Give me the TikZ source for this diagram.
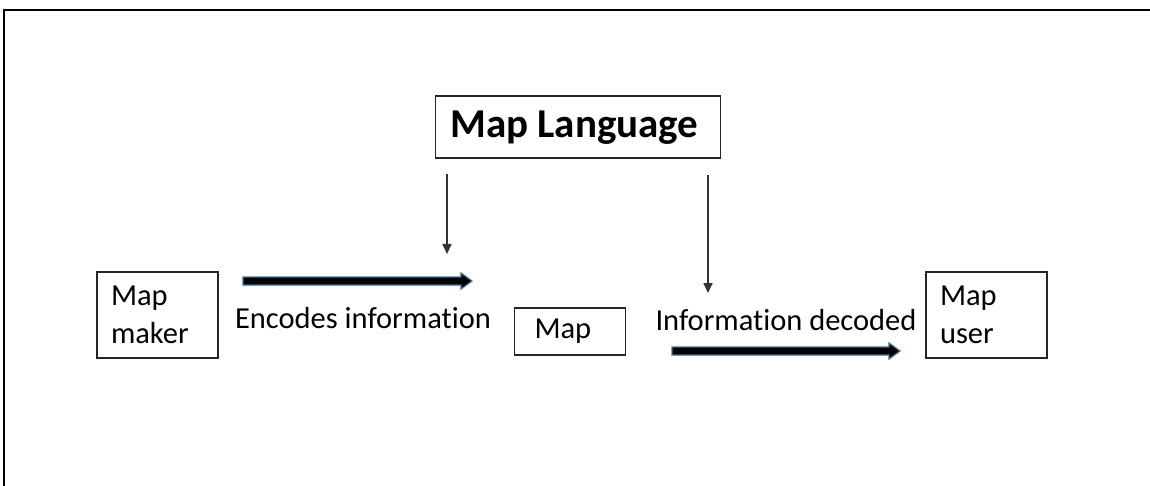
\documentclass[tikz,border=0pt]{standalone}
\usepackage{fontspec}
\setmainfont{Carlito}[Ligatures=NoCommon]
\usetikzlibrary{arrows.meta}
\definecolor{outl}{HTML}{41719C}
\begin{document}
\begin{tikzpicture}[x=1pt,y=-1pt,
  box/.style={draw=black!85,line width=1.3pt,inner sep=0pt},
  lbl/.style={font=\fontsize{30.5}{36}\selectfont,inner sep=0pt},
  two/.style={text width=93pt,align=left,inner xsep=14pt,minimum height=86pt,font=\fontsize{30.5}{38}\selectfont},
  thin/.style={draw=black!80,line width=1.6pt,-{Triangle[width=9pt,length=10pt]}},
  fat/.style={fill=black,draw=outl,line width=1.2pt}]
\useasboundingbox (0,0) rectangle (1150,486);
\draw[line width=1.5pt] (4,486) -- (4,10) -- (1150,10);
\node[box,minimum width=285pt,minimum height=62pt] (ml) at (578,127) {};
\node[inner sep=0pt,anchor=base west,font=\bfseries\fontsize{41}{48}\selectfont] (mlt) at (450,138) {Map Language};
\node[box,lbl,two] (maker) at (157.5,315) {Map\\maker};
\node[box,lbl,text width=71pt,align=left,inner xsep=20pt,minimum height=47pt] (map) at (570,331.5) {Map};
\node[box,lbl,two] (user) at (986.5,315) {Map\\user};
\node[lbl] (enc) at (363,318) {Encodes information};
\node[lbl] (dec) at (786,320) {Information decoded};
\coordinate (t1s) at (447,174);
\coordinate (t1e) at (447,254);
\coordinate (t2s) at (708,175);
\coordinate (t2e) at (708,293);
\draw[thin] (t1s) -- (t1e);
\draw[thin] (t2s) -- (t2e);
\coordinate (a1) at (243,281);
\coordinate (a2) at (672,351);
\draw[fat] (a1) ++(0,-4) -- ++(218,0) -- ++(0,-4) -- ++(11,8) -- ++(-11,8) -- ++(0,-4) -- ++(-218,0) -- cycle;
\draw[fat] (a2) ++(0,-4) -- ++(217,0) -- ++(0,-4) -- ++(11,8) -- ++(-11,8) -- ++(0,-4) -- ++(-217,0) -- cycle;
\end{tikzpicture}
\end{document}
